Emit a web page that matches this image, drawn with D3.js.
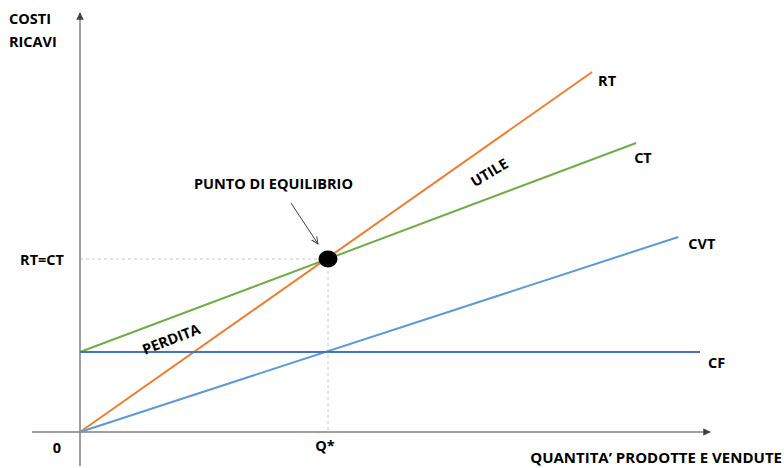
<!DOCTYPE html>
<html>
<head>
<meta charset="utf-8">
<script src="https://cdn.jsdelivr.net/npm/d3@7"></script>
<style>
  body { margin: 0; background: #fff; }
  text { font-family: "Open Sans", sans-serif; font-weight: 700; fill: #000; }
</style>
</head>
<body>
<svg id="chart" width="784" height="468"></svg>
<script>
// lines: start and end points (quantity, value)
const seriesNames = ["RT", "CT", "CVT", "CF"];
const startQ = [0, 0, 0, 0];
const startV = [0, 20, 0, 20];
const endQ = [82.6, 89.7, 96.5, 100];
const endV = [90, 72.25, 48.75, 20];

const equilibrium = { q: 40, v: 43.25 };
const tickLabelsY = ["RT=CT"];
const tickLabelsX = ["Q*"];

const colors = { RT: "#ed7d31", CT: "#70ad47", CVT: "#5b9bd5", CF: "#4472c4" };
const labelOffset = { RT: [6, 14], CT: [-2, 20], CVT: [10, 12], CF: [8, 16] };

const svg = d3.select("#chart");
const axisColor = "#7f7f7f";
const fontSize = "14.5px";

const xScale = d3.scaleLinear().domain([0, 100]).range([80, 700]);
const yScale = d3.scaleLinear().domain([0, 100]).range([432, 32]);

const defs = svg.append("defs");
defs.append("marker")
    .attr("id", "axis-arrow")
    .attr("viewBox", "0 0 10 10")
    .attr("refX", 9).attr("refY", 5)
    .attr("markerWidth", 5).attr("markerHeight", 5)
    .attr("orient", "auto")
  .append("path")
    .attr("d", "M0,0 L10,5 L0,10 Z")
    .attr("fill", "#404040");
defs.append("marker")
    .attr("id", "note-arrow")
    .attr("viewBox", "0 0 10 10")
    .attr("refX", 9).attr("refY", 5)
    .attr("markerWidth", 8).attr("markerHeight", 8)
    .attr("orient", "auto")
  .append("path")
    .attr("d", "M0,1 L9,5 L0,9")
    .attr("fill", "none")
    .attr("stroke", "#404040")
    .attr("stroke-width", 1.2);

// dashed guides to the break-even point
svg.append("line")
    .attr("x1", xScale(0)).attr("x2", xScale(equilibrium.q))
    .attr("y1", yScale(equilibrium.v)).attr("y2", yScale(equilibrium.v))
    .attr("stroke", "#c8c8c8").attr("stroke-dasharray", "3 3");
svg.append("line")
    .attr("x1", xScale(equilibrium.q)).attr("x2", xScale(equilibrium.q))
    .attr("y1", yScale(equilibrium.v)).attr("y2", yScale(0))
    .attr("stroke", "#c8c8c8").attr("stroke-dasharray", "3 3");

// axes
svg.append("line")
    .attr("x1", 32).attr("x2", 710)
    .attr("y1", yScale(0)).attr("y2", yScale(0))
    .attr("stroke", axisColor).attr("stroke-width", 1.5)
    .attr("marker-end", "url(#axis-arrow)");
svg.append("line")
    .attr("x1", xScale(0)).attr("x2", xScale(0))
    .attr("y1", 466).attr("y2", 13)
    .attr("stroke", axisColor).attr("stroke-width", 1.5)
    .attr("marker-end", "url(#axis-arrow)");

// cost / revenue lines
seriesNames.forEach((name, i) => {
  svg.append("line")
      .attr("x1", xScale(startQ[i])).attr("y1", yScale(startV[i]))
      .attr("x2", xScale(endQ[i])).attr("y2", yScale(endV[i]))
      .attr("stroke", colors[name])
      .attr("stroke-width", 2);
  svg.append("text")
      .attr("x", xScale(endQ[i]) + labelOffset[name][0])
      .attr("y", yScale(endV[i]) + labelOffset[name][1])
      .style("font-size", fontSize)
      .text(name);
});

// break-even point
svg.append("ellipse")
    .attr("cx", xScale(equilibrium.q)).attr("cy", yScale(equilibrium.v))
    .attr("rx", 9.5).attr("ry", 8.5)
    .attr("fill", "#000");

svg.append("line")
    .attr("x1", 291).attr("y1", 203)
    .attr("x2", xScale(equilibrium.q) - 10).attr("y2", yScale(equilibrium.v) - 15)
    .attr("stroke", "#404040").attr("stroke-width", 1)
    .attr("marker-end", "url(#note-arrow)");

svg.append("text")
    .attr("x", 194).attr("y", 189)
    .style("font-size", fontSize)
    .text("PUNTO DI EQUILIBRIO");

// tick labels
svg.append("text")
    .attr("x", 64).attr("y", yScale(equilibrium.v) + 6)
    .attr("text-anchor", "end")
    .style("font-size", fontSize)
    .text(tickLabelsY[0]);
svg.append("text")
    .attr("x", 61).attr("y", yScale(0) + 21)
    .attr("text-anchor", "end")
    .style("font-size", fontSize)
    .text("0");
svg.append("text")
    .attr("x", xScale(equilibrium.q) - 3).attr("y", yScale(0) + 19)
    .attr("text-anchor", "middle")
    .style("font-size", fontSize)
    .text(tickLabelsX[0]);

// axis titles
svg.append("text")
    .attr("x", 9).attr("y", 24)
    .style("font-size", fontSize)
    .text("COSTI");
svg.append("text")
    .attr("x", 9).attr("y", 47)
    .style("font-size", fontSize)
    .text("RICAVI");
svg.append("text")
    .attr("x", 782).attr("y", 463)
    .attr("text-anchor", "end")
    .style("font-size", "15px")
    .text("QUANTITA\u2019 PRODOTTE E VENDUTE");

// area labels
svg.append("text")
    .attr("transform", "translate(492,177) rotate(-31)")
    .attr("text-anchor", "middle")
    .style("font-size", fontSize)
    .text("UTILE");
svg.append("text")
    .attr("transform", "translate(173,344) rotate(-21)")
    .attr("text-anchor", "middle")
    .style("font-size", fontSize)
    .text("PERDITA");
</script>
</body>
</html>
